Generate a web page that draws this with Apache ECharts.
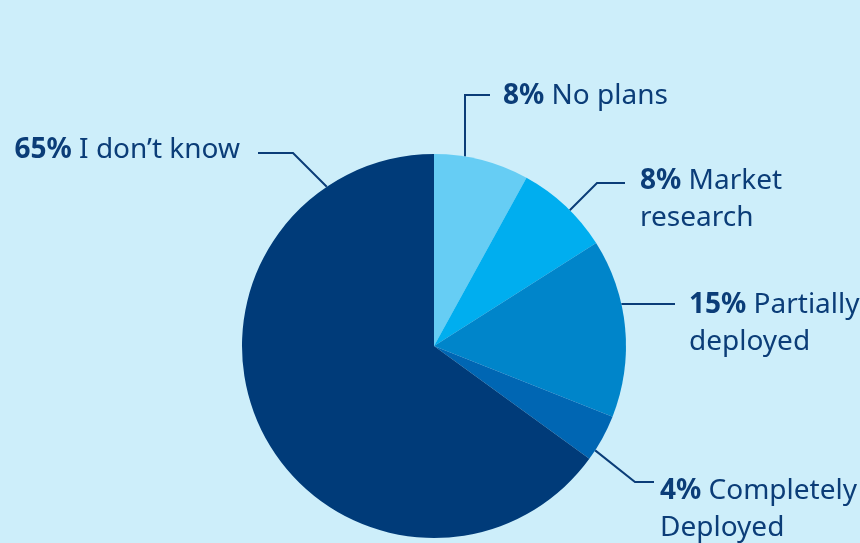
<!DOCTYPE html>
<html><head><meta charset="utf-8">
<script src="https://cdn.jsdelivr.net/npm/echarts@6/dist/echarts.min.js"></script>
<style>html,body{margin:0;padding:0;background:#cdeefa}#c{width:860px;height:543px}</style>
</head><body><div id="c"></div>
<script>
// ---- data ----
const categories = ['No plans', 'Market research', 'Partially deployed', 'Completely Deployed', 'I don’t know'];
const values = [8, 8, 15, 4, 65];
const labelTexts = [['No plans'], ['Market', 'research'], ['Partially', 'deployed'], ['Completely', 'Deployed'], ['I don’t know']];
const colors = ['#66cdf4', '#00aeef', '#0085ca', '#0066b3', '#003b79'];

// ---- layout / style ----
const CENTER = [434, 346], RADIUS = 192;
// text anchor (x, top y), elbow start (lx, ly), elbow length, direction of the leg toward the pie
const labelPlace = [
  { x: 503, y: 78,  align: 'left',  lx: 490, ly: 95,  len2: 25, dir: [0, 1] },
  { x: 640, y: 163, align: 'left',  lx: 625, ly: 183, len2: 28, dir: [-1, 1] },
  { x: 689, y: 287, align: 'left',  lx: 675, ly: 304, len2: 35, dir: [-1, 0] },
  { x: 660, y: 473, align: 'left',  lx: 654, ly: 482, len2: 19, dir: [-39, -31] },
  { x: 240, y: 132, align: 'right', lx: 258, ly: 153, len2: 35, dir: [1, 1] }
];
const textColor = '#0b3d78';
const FONT = 'Noto Sans';
const FS = 28, LH = 37;

function rayToCircle(p, d) {
  const n = Math.hypot(d[0], d[1]);
  const ux = d[0] / n, uy = d[1] / n;
  const ox = p[0] - CENTER[0], oy = p[1] - CENTER[1];
  const b = ox * ux + oy * uy;
  const c = ox * ox + oy * oy - RADIUS * RADIUS;
  const t = -b - Math.sqrt(Math.max(0, b * b - c));
  return [p[0] + t * ux, p[1] + t * uy];
}

const chart = echarts.init(document.getElementById('c'), null, { renderer: 'canvas' });
chart.setOption({
  backgroundColor: '#cdeefa',
  animation: false,
  series: [{
    type: 'pie',
    center: CENTER,
    radius: RADIUS,
    startAngle: 90,
    clockwise: true,
    avoidLabelOverlap: false,
    itemStyle: { borderWidth: 0 },
    emphasis: { disabled: true },
    label: {
      show: true,
      position: 'outside',
      overflow: 'none',
      fontFamily: FONT,
      fontSize: FS,
      lineHeight: LH,
      color: textColor,
      formatter: function (p) {
        const t = labelTexts[p.dataIndex];
        let s = '{b|' + p.value + '%} {n|' + t[0] + '}';
        if (t[1]) s += '\n{n|' + t[1] + '}';
        return s;
      },
      rich: {
        b: { fontFamily: FONT, fontWeight: 'bold', fontSize: FS, lineHeight: LH, color: textColor },
        n: { fontFamily: FONT, fontSize: FS, lineHeight: LH, color: textColor }
      }
    },
    labelLine: { show: true, length: 10, length2: 10, smooth: false, lineStyle: { color: textColor, width: 2 } },
    labelLayout: function (params) {
      const p = labelPlace[params.dataIndex];
      const sgn = p.align === 'left' ? -1 : 1;
      const p0 = [p.lx, p.ly];
      const p1 = [p.lx + sgn * p.len2, p.ly];
      const p2 = rayToCircle(p1, p.dir);
      return {
        x: p.x, y: p.y, align: p.align, verticalAlign: 'top',
        labelLinePoints: [p2, p1, p0]
      };
    },
    data: categories.map(function (name, i) {
      return { name: name, value: values[i], itemStyle: { color: colors[i] } };
    })
  }]
});
</script>
</body></html>
